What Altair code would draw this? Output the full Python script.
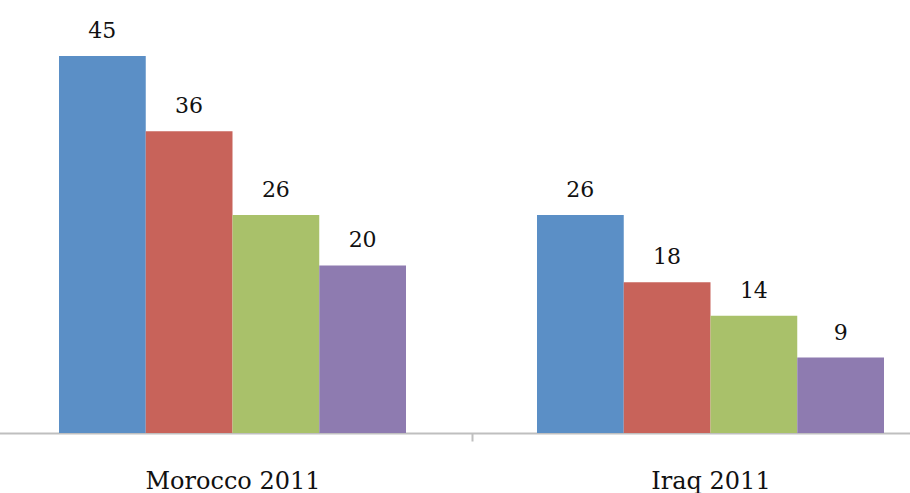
import altair as alt
import pandas as pd

categories = ["Morocco 2011", "Iraq 2011"]
series = ["S1", "S2", "S3", "S4"]
morocco = [45, 36, 26, 20]
iraq = [26, 18, 14, 9]
colors = ["#5B8FC6", "#C8635A", "#A9C16A", "#8E7BB0"]

rows = []
for cat, vals in zip(categories, [morocco, iraq]):
    for s, v in zip(series, vals):
        rows.append({"cat": cat, "series": s, "value": v})
df = pd.DataFrame(rows)

FONT = "DejaVu Serif"

xscale = alt.Scale(domain=categories, paddingInner=0, paddingOuter=0, range=[-13.5, 942.5])
x = alt.X("cat:N", scale=xscale, sort=categories,
          axis=alt.Axis(title=None, labelAngle=0, ticks=True, tickBand="extent", tickSize=8,
                        tickColor="#BFBFBF", tickWidth=2, domainColor="#BFBFBF",
                        domainWidth=2, labelFont=FONT, labelFontSize=24, labelColor="#111111",
                        labelPadding=28))
y = alt.Y("value:Q", scale=alt.Scale(domain=[0, 50], nice=False), axis=None)
xo = alt.XOffset("series:N", sort=series, scale=alt.Scale(paddingInner=0, paddingOuter=0.755))

bars = alt.Chart(df).mark_bar(strokeWidth=0).encode(
    x=x, y=y, xOffset=xo,
    color=alt.Color("series:N", scale=alt.Scale(domain=series, range=colors), legend=None),
)
labels = alt.Chart(df).mark_text(font=FONT, fontSize=22, color="#111111", baseline="alphabetic", dy=-18).encode(
    x=x, y=y, xOffset=xo, text="value:Q"
)

chart = alt.layer(bars, labels).properties(
    width=903, height=419,
    background="white",
    autosize=alt.AutoSizeParams(type="none"),
    padding={"left": 7, "top": 14, "right": 0, "bottom": 60},
).configure_view(strokeWidth=0)

chart.save("out.html", embed_options={"renderer": "svg", "actions": False})
